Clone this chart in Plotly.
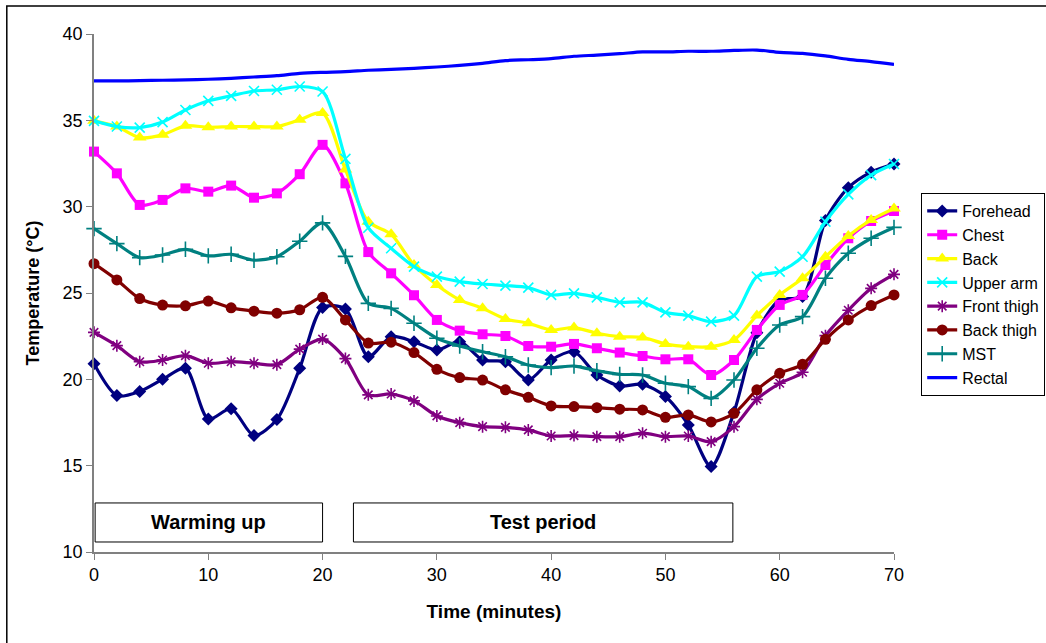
import plotly.graph_objects as go

time_min = list(range(0, 72, 2))

forehead = [20.9, 19.06, 19.3, 20.0, 20.64, 17.7, 18.3, 16.74, 17.67, 20.64,
            24.16, 24.07, 21.31, 22.47, 22.18, 21.7, 22.18, 21.12, 21.02, 19.96,
            21.12, 21.6, 20.25, 19.62, 19.71, 19.0, 17.36, 14.95, 18.1, 22.7,
            24.6, 24.8, 29.2, 31.1, 32.0, 32.47]
chest = [33.19, 31.93, 30.1, 30.39, 31.06, 30.87, 31.22, 30.52, 30.77, 31.88,
         33.58, 31.35, 27.37, 26.14, 24.87, 23.44, 22.82, 22.61, 22.51, 21.93,
         21.89, 22.05, 21.8, 21.55, 21.35, 21.16, 21.16, 20.25, 21.12, 22.86,
         24.31, 24.89, 26.62, 28.17, 29.17, 29.75]
back = [34.97, 34.64, 34.0, 34.16, 34.68, 34.6, 34.64, 34.64, 34.64, 35.03,
        35.42, 32.15, 29.13, 28.4, 26.62, 25.46, 24.6, 24.11, 23.5, 23.25,
        22.86, 23.0, 22.67, 22.47, 22.43, 22.05, 21.89, 21.89, 22.28, 23.69,
        24.89, 25.85, 27.1, 28.3, 29.23, 29.9]
upper_arm = [34.97, 34.64, 34.58, 34.9, 35.6, 36.13, 36.42, 36.7, 36.77, 36.96,
             36.67, 32.77, 28.78, 27.59, 26.53, 25.95, 25.66, 25.52, 25.43, 25.31,
             24.89, 24.98, 24.75, 24.46, 24.46, 23.88, 23.69, 23.34, 23.69, 25.95,
             26.24, 27.1, 29.13, 30.71, 31.83, 32.47]
front_thigh = [22.72, 21.95, 21.02, 21.12, 21.37, 20.93, 21.02, 20.93, 20.85, 21.75,
               22.33, 21.2, 19.1, 19.15, 18.75, 17.88, 17.49, 17.26, 17.22, 17.07,
               16.72, 16.74, 16.68, 16.68, 16.88, 16.68, 16.72, 16.39, 17.26, 18.84,
               19.77, 20.41, 22.53, 24.0, 25.27, 26.08]
back_thigh = [26.7, 25.76, 24.68, 24.3, 24.26, 24.53, 24.14, 23.95, 23.83, 24.03,
              24.75, 23.44, 22.1, 22.15, 21.55, 20.58, 20.1, 19.96, 19.39, 18.96,
              18.46, 18.42, 18.36, 18.27, 18.23, 17.8, 17.94, 17.53, 18.03, 19.39,
              20.35, 20.87, 22.32, 23.44, 24.27, 24.89]
mst = [28.73, 27.86, 27.05, 27.2, 27.53, 27.15, 27.24, 26.9, 27.1, 28.0,
       29.06, 27.12, 24.4, 24.11, 23.25, 22.38, 21.93, 21.6, 21.31, 20.83,
       20.68, 20.77, 20.5, 20.29, 20.25, 19.77, 19.58, 18.9, 19.96, 21.8,
       23.15, 23.63, 25.85, 27.3, 28.17, 28.8]
rectal = [37.28, 37.28, 37.30, 37.32, 37.34, 37.38, 37.43, 37.51, 37.59, 37.72,
          37.78, 37.82, 37.90, 37.95, 38.01, 38.09, 38.18, 38.3, 38.46, 38.51,
          38.57, 38.71, 38.78, 38.86, 38.96, 38.96, 39.0, 39.0, 39.05, 39.07,
          38.94, 38.88, 38.73, 38.53, 38.40, 38.24]

series_names = ["Forehead", "Chest", "Back", "Upper arm", "Front thigh", "Back thigh", "MST", "Rectal"]
series_values = [forehead, chest, back, upper_arm, front_thigh, back_thigh, mst, rectal]

period_labels = ["Warming up", "Test period"]
period_starts = [0.1, 22.7]
period_ends = [20.0, 55.9]
box_bottom, box_top = 10.58, 12.84

styles = {
    "Forehead": dict(color="#000080", symbol="diamond", size=10, open=False),
    "Chest": dict(color="#FF00FF", symbol="square", size=10, open=False),
    "Back": dict(color="#FFFF00", symbol="triangle-up", size=12, open=False),
    "Upper arm": dict(color="#00FFFF", symbol="x-thin-open", size=10, open=True),
    "Front thigh": dict(color="#800080", symbol="asterisk-open", size=10, open=True),
    "Back thigh": dict(color="#800000", symbol="circle", size=11, open=False),
    "MST": dict(color="#008080", symbol="cross-thin-open", size=11, open=True),
    "Rectal": dict(color="#0000FF", symbol=None, size=0, open=False),
}

FONT = "Arial, Liberation Sans, sans-serif"
fig = go.Figure()

for name, vals in zip(series_names, series_values):
    st = styles[name]
    if st["symbol"] is None:
        mode = "lines"
        marker = None
    else:
        mode = "lines+markers"
        if st["open"]:
            marker = dict(symbol=st["symbol"], size=st["size"], color=st["color"],
                          line=dict(color=st["color"], width=1.6))
        else:
            marker = dict(symbol=st["symbol"], size=st["size"], color=st["color"],
                          line=dict(width=0))
    fig.add_trace(go.Scatter(
        x=time_min, y=vals, name=name, mode=mode,
        line=dict(color=st["color"], width=3.2, shape="spline", smoothing=0.8),
        marker=marker, cliponaxis=False,
    ))

for lab, x0, x1 in zip(period_labels, period_starts, period_ends):
    fig.add_shape(type="rect", xref="x", yref="y", x0=x0, x1=x1, y0=box_bottom, y1=box_top,
                  line=dict(color="#000000", width=1), fillcolor="white", layer="above")
    fig.add_annotation(x=(x0 + x1) / 2, y=(box_bottom + box_top) / 2, xref="x", yref="y",
                       text="<b>%s</b>" % lab, showarrow=False,
                       font=dict(family=FONT, size=20, color="black"))

# outer chart frame
fig.add_shape(type="rect", xref="paper", yref="paper", x0=-0.109, x1=1.4, y0=-0.4, y1=1.054,
              line=dict(color="#000000", width=1.5), fillcolor="rgba(0,0,0,0)")

fig.update_layout(
    width=1046, height=643,
    margin=dict(l=94, r=152, t=34, b=91, autoexpand=False),
    paper_bgcolor="white", plot_bgcolor="white",
    font=dict(family=FONT, size=18, color="black"),
    legend=dict(x=1.034, y=0.693, xanchor="left", yanchor="top",
                bordercolor="black", borderwidth=1, bgcolor="white",
                font=dict(family=FONT, size=16), tracegroupgap=0, itemwidth=30),
    xaxis=dict(range=[0, 70], tickvals=[0, 10, 20, 30, 40, 50, 60, 70],
               showline=True, linecolor="#808080", linewidth=1.5,
               ticks="outside", ticklen=6, tickcolor="#808080",
               showgrid=False, zeroline=False, automargin=False,
               tickfont=dict(size=18),
               title=dict(text="<b>Time (minutes)</b>", font=dict(size=19), standoff=20)),
    yaxis=dict(range=[10, 40], tickvals=[10, 15, 20, 25, 30, 35, 40],
               showline=True, linecolor="#808080", linewidth=1.5,
               ticks="outside", ticklen=6, tickcolor="#808080",
               showgrid=False, zeroline=False, automargin=False,
               tickfont=dict(size=18),
               title=dict(text="<b>Temperature (°C)</b>", font=dict(size=18), standoff=18)),
    showlegend=True,
)

fig.write_html("out.html", config={"displayModeBar": False},
               post_script="document.body.style.margin='0';")
